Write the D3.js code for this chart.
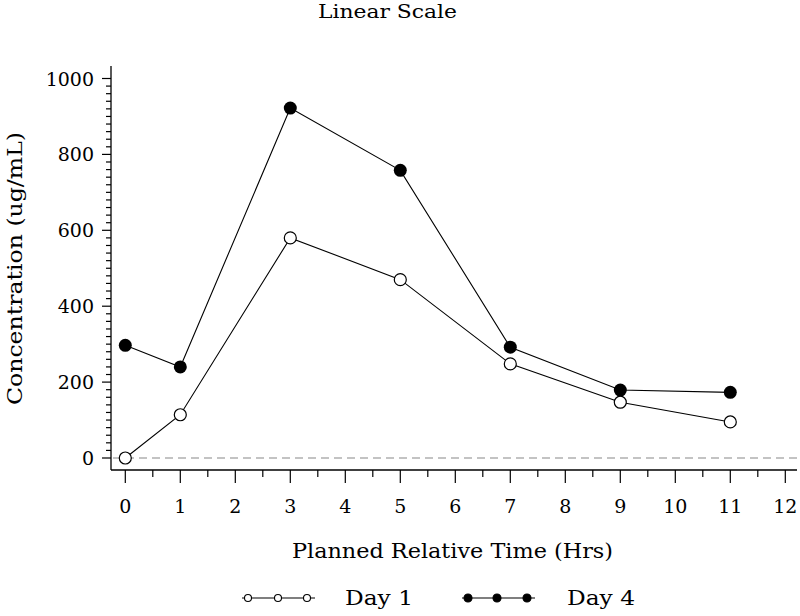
<!DOCTYPE html>
<html><head><meta charset="utf-8">
<script src="https://cdn.jsdelivr.net/npm/d3@7"></script>
<style>body{margin:0;background:#fff}svg{display:block}text{font-family:"DejaVu Serif",serif;fill:#000}</style>
</head><body><svg id="c" width="800" height="616"></svg>
<script>
const times = [0, 1, 3, 5, 7, 9, 11];
const day1 = [0, 114, 580, 470, 248, 147, 95];
const day4 = [297, 240, 922, 758, 292, 179, 173];
const xTicks = [0,1,2,3,4,5,6,7,8,9,10,11,12];
const yTicks = [0,200,400,600,800,1000];
const seriesNames = ["Day 1", "Day 4"];
const title = "Linear Scale";
const xLabel = "Planned Relative Time (Hrs)";
const yLabel = "Concentration (ug/mL)";

const svg = d3.select("#c");
const x = d3.scaleLinear().domain([0,12]).range([125.3,785.3]);
const y = d3.scaleLinear().domain([0,1000]).range([458,78.5]);
const axL = 111, axB = 470, axTop = 66, axR = 797;

function fitText(sel, len){ sel.attr("textLength",len).attr("lengthAdjust","spacingAndGlyphs"); return sel; }

fitText(svg.append("text").attr("x",318).attr("y",18).attr("font-size",18).text(title),139);

// axes lines
svg.append("line").attr("x1",axL).attr("x2",axL).attr("y1",axTop).attr("y2",axB).attr("stroke","#000").attr("stroke-width",1.3);
svg.append("line").attr("x1",axL).attr("x2",axR).attr("y1",axB).attr("y2",axB).attr("stroke","#000").attr("stroke-width",1.3);

// y ticks
const yMinor = d3.range(0,1001,20);
svg.append("g").selectAll("line").data(yMinor).join("line")
  .attr("x1",d=> d%200===0 ? axL-9 : axL-5).attr("x2",axL)
  .attr("y1",d=>y(d)).attr("y2",d=>y(d)).attr("stroke","#000").attr("stroke-width",1.2);
svg.append("g").selectAll("text").data(yTicks).join("text")
  .attr("x",94).attr("y",d=>y(d)+7).attr("text-anchor","end").attr("font-size",19).text(d=>d);

// x ticks
const xMinor = d3.range(0,12.01,0.5);
svg.append("g").selectAll("line").data(xMinor).join("line")
  .attr("x1",d=>x(d)).attr("x2",d=>x(d)).attr("y1",axB)
  .attr("y2",d=> Number.isInteger(d) ? axB+13 : axB+7).attr("stroke","#000").attr("stroke-width",1.2);
svg.append("g").selectAll("text").data(xTicks).join("text")
  .attr("x",d=>x(d)).attr("y",513).attr("text-anchor","middle").attr("font-size",19).text(d=>d);

// labels
fitText(svg.append("text").attr("x",292).attr("y",558).attr("font-size",20).text(xLabel),321);
fitText(svg.append("text").attr("transform","translate(22,405) rotate(-90)").attr("font-size",20).text(yLabel),273);

// reference line
svg.append("line").attr("x1",axL+2).attr("x2",axR).attr("y1",y(0)).attr("y2",y(0))
  .attr("stroke","#888").attr("stroke-width",1.2).attr("stroke-dasharray","8,5");

const line = d3.line().x(d=>x(d[0])).y(d=>y(d[1]));
const s1 = times.map((t,i)=>[t,day1[i]]);
const s4 = times.map((t,i)=>[t,day4[i]]);
svg.append("path").attr("d",line(s1)).attr("fill","none").attr("stroke","#000").attr("stroke-width",1.1);
svg.append("path").attr("d",line(s4)).attr("fill","none").attr("stroke","#000").attr("stroke-width",1.1);
svg.append("g").selectAll("circle").data(s1).join("circle")
  .attr("cx",d=>x(d[0])).attr("cy",d=>y(d[1])).attr("r",6).attr("fill","#fff").attr("stroke","#000").attr("stroke-width",1.2);
svg.append("g").selectAll("circle").data(s4).join("circle")
  .attr("cx",d=>x(d[0])).attr("cy",d=>y(d[1])).attr("r",6.5).attr("fill","#000");

// legend
const lg = svg.append("g");
const legItems = [{name:seriesNames[0],x0:242,filled:false,tx:345,cx:[248,278,307]},{name:seriesNames[1],x0:462,filled:true,tx:567,cx:[468,497,527]}];
legItems.forEach(it=>{
  lg.append("line").attr("x1",it.x0).attr("x2",it.x0+73).attr("y1",598).attr("y2",598).attr("stroke","#000").attr("stroke-width",1.1);
  it.cx.forEach(c=>{
    lg.append("circle").attr("cx",c).attr("cy",598).attr("r",it.filled?4:3.5)
      .attr("fill",it.filled?"#000":"#fff").attr("stroke","#000").attr("stroke-width",1.1);
  });
  fitText(lg.append("text").attr("x",it.tx).attr("y",605).attr("font-size",20).text(it.name),68);
});
</script></body></html>
